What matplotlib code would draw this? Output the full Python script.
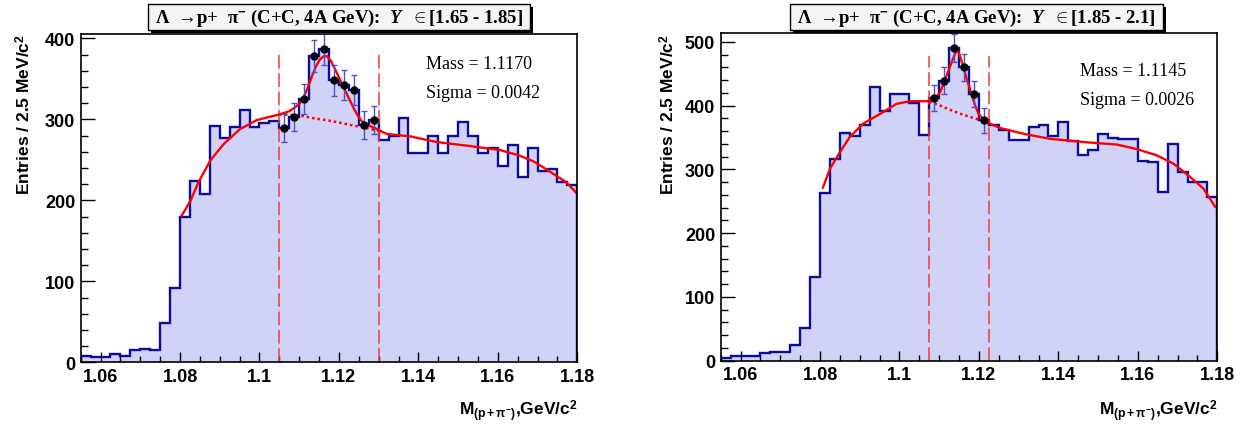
import numpy as np
import matplotlib
matplotlib.use('Agg')
import matplotlib.pyplot as plt
from matplotlib.patches import Rectangle
from matplotlib.ticker import FixedLocator, FixedFormatter, MultipleLocator

plt.rcParams['mathtext.fontset'] = 'custom'
plt.rcParams['mathtext.rm'] = 'Liberation Sans:bold'
plt.rcParams['mathtext.bf'] = 'Liberation Sans:bold'
plt.rcParams['mathtext.sf'] = 'Liberation Sans:bold'
plt.rcParams['mathtext.it'] = 'Liberation Serif:italic:bold'

# ---------------- data ----------------
mass_lo, mass_hi, bin_w = 1.055, 1.18, 0.0025

left_counts = [8, 7, 6, 10, 8, 15, 17, 15, 48, 92,
               179, 224, 208, 292, 277, 290, 312, 291, 296, 298,
               289, 303, 325, 378, 387, 348, 342, 336, 293, 299,
               275, 279, 302, 259, 259, 279, 259, 279, 297, 279,
               259, 264, 243, 268, 229, 265, 236, 239, 223, 219]

right_counts = [5, 8, 7, 8, 12, 13, 13, 24, 51, 131,
                263, 316, 357, 352, 369, 429, 391, 418, 418, 404,
                354, 412, 439, 490, 460, 419, 377, 370, 362, 346,
                346, 367, 369, 352, 375, 345, 323, 330, 355, 350,
                348, 348, 314, 312, 265, 340, 296, 281, 280, 257]

# signal windows (dashed lines)
left_window = [1.105, 1.13]
right_window = [1.1075, 1.1225]

# fit curves
left_fit_x = [1.0804, 1.0826, 1.0846, 1.0876, 1.0909, 1.0951, 1.0993, 1.1025, 1.1050,
              1.1075, 1.1090, 1.1102, 1.1112, 1.1122, 1.1132, 1.1142, 1.1152, 1.1162,
              1.1170, 1.1180, 1.1190, 1.1200, 1.1211, 1.1224, 1.1236, 1.1247, 1.1257,
              1.1272, 1.1287, 1.1320, 1.1379, 1.1446, 1.1530, 1.1606, 1.1656, 1.1690,
              1.1723, 1.1773, 1.1798]
left_fit_y = [181, 199, 222, 249, 269, 288, 299, 303, 306,
              310, 315, 320, 328, 340, 353, 365, 374, 378,
              378, 372, 362, 352, 340, 327, 315, 305, 298,
              293, 290, 282, 279, 272, 267, 262, 255, 248,
              238, 222, 209]
left_bg_x = [1.105, 1.108, 1.111, 1.114, 1.117, 1.120, 1.123, 1.126, 1.130]
left_bg_y = [306, 305.5, 304, 301, 299, 296, 293, 290, 286]

right_fit_x = [1.0807, 1.0825, 1.0850, 1.0875, 1.0909, 1.0951, 1.0993, 1.1027, 1.1050,
               1.1077, 1.1092, 1.1102, 1.1111, 1.1119, 1.1127, 1.1135, 1.1144, 1.1150,
               1.1157, 1.1163, 1.1169, 1.1176, 1.1182, 1.1190, 1.1199, 1.1210, 1.1220,
               1.1253, 1.1312, 1.1379, 1.1463, 1.1547, 1.1597, 1.1648, 1.1690, 1.1732,
               1.1765, 1.1795]
right_fit_y = [271, 301, 327, 351, 372, 387, 403, 407, 407,
               407, 413, 421, 434, 448, 461, 474, 488, 482,
               469, 456, 442, 429, 416, 401, 387, 379, 374,
               365, 356, 348, 343, 339, 332, 322, 309, 288,
               270, 241]
right_bg_x = [1.1075, 1.110, 1.1125, 1.115, 1.1175, 1.120, 1.1225]
right_bg_y = [406, 401, 394, 388, 383, 378, 373]

left_title = 'Λ  →p+  π$^{-}$ (C+C, 4A GeV):  $Y$  $\\in$[1.65 - 1.85]'
right_title = 'Λ  →p+  π$^{-}$ (C+C, 4A GeV):  $Y$  $\\in$[1.85 - 2.1]'
left_mass, left_sigma = 'Mass = 1.1170', 'Sigma = 0.0042'
right_mass, right_sigma = 'Mass = 1.1145', 'Sigma = 0.0026'

x_ticks = [1.06, 1.08, 1.10, 1.12, 1.14, 1.16, 1.18]
x_tick_labels = ['1.06', '1.08', '1.1', '1.12', '1.14', '1.16', '1.18']
left_yticks = [0, 100, 200, 300, 400]
right_yticks = [0, 100, 200, 300, 400, 500]

xlabel = 'M$_{\\mathrm{(p+\\pi^{-})}}$,GeV/c$^{2}$'
ylabel = 'Entries / 2.5 MeV/c$^{2}$'

# ---------------- style ----------------
W, H = 1254, 427
fill_col = '#d0d2f7'
line_col = '#0c0c9c'
err_col = '#5050c8'
fit_col = '#ff0000'
dash_col = '#f03c3c'

fig = plt.figure(figsize=(W / 100, H / 100), dpi=100)
fig.patch.set_facecolor('white')


def px_axes(x0, x1, ytop, ybot):
    return fig.add_axes([x0 / W, 1 - ybot / H, (x1 - x0) / W, (ybot - ytop) / H])


def title_box(x0, x1, y0, y1, text):
    sh = 3
    fig.add_artist(Rectangle(((x0 + sh) / W, 1 - (y1 + sh) / H), (x1 - x0) / W, (y1 - y0) / H,
                             transform=fig.transFigure, facecolor='black', edgecolor='black', lw=0))
    fig.add_artist(Rectangle((x0 / W, 1 - y1 / H), (x1 - x0) / W, (y1 - y0) / H,
                             transform=fig.transFigure, facecolor='#f4f4f4', edgecolor='black', lw=1))
    fig.text((x0 + x1) / 2 / W, 1 - (y0 + y1) / 2 / H, text, ha='center', va='center',
             fontsize=13.5, fontweight='bold', family=['Liberation Serif', 'DejaVu Serif'])


def draw_panel(ax, counts, window, fx, fy, bx, by, ymax, yticks, dash_top,
               mass_txt, sigma_txt, txt_x, mass_y, sigma_y, ylab_x, xlab_y):
    edges = mass_lo + bin_w * np.arange(len(counts) + 1)
    counts = np.asarray(counts, dtype=float)
    ax.stairs(counts, edges, fill=True, color=fill_col, lw=0, zorder=1)
    ax.stairs(counts, edges, color=line_col, lw=1.7, zorder=2)
    centers = edges[:-1] + bin_w / 2
    sel = (centers > window[0]) & (centers < window[1])
    ax.errorbar(centers[sel], counts[sel], yerr=np.sqrt(counts[sel]), fmt='o',
                color='black', ms=5, ecolor=err_col, elinewidth=1.0, capsize=2.2,
                capthick=1.0, zorder=5)
    ax.plot(fx, fy, color=fit_col, lw=1.7, zorder=4, solid_capstyle='round')
    ax.plot(bx, by, color=fit_col, lw=1.8, ls=(0, (1, 1.2)), zorder=4)
    for xv in window:
        ax.plot([xv, xv], [0, dash_top], color=dash_col, lw=1.1, ls=(0, (9, 3)), zorder=3)
    ax.set_xlim(mass_lo, mass_hi)
    ax.set_ylim(0, ymax)
    ax.xaxis.set_major_locator(FixedLocator(x_ticks))
    ax.xaxis.set_major_formatter(FixedFormatter(x_tick_labels))
    ax.xaxis.set_minor_locator(MultipleLocator(0.005))
    ax.yaxis.set_major_locator(FixedLocator(yticks))
    ax.yaxis.set_major_formatter(FixedFormatter([str(v) for v in yticks]))
    ax.yaxis.set_minor_locator(MultipleLocator(20))
    ax.tick_params(axis='both', which='both', direction='in', top=False, right=False,
                   width=1.0, colors='black')
    ax.tick_params(axis='y', which='major', length=10, pad=4)
    ax.tick_params(axis='y', which='minor', length=5)
    ax.tick_params(axis='x', which='major', length=7, pad=4)
    ax.tick_params(axis='x', which='minor', length=4)
    for lab in ax.get_xticklabels() + ax.get_yticklabels():
        lab.set_fontfamily('Liberation Sans')
        lab.set_fontweight('bold')
        lab.set_fontsize(13)
    for sp in ax.spines.values():
        sp.set_linewidth(1.2)
        sp.set_color('black')
        sp.set_zorder(6)
    ax.text(txt_x, mass_y, mass_txt, transform=ax.transAxes, ha='left', va='center',
            fontsize=13, family='Liberation Serif')
    ax.text(txt_x, sigma_y, sigma_txt, transform=ax.transAxes, ha='left', va='center',
            fontsize=13, family='Liberation Serif')
    ax.set_xlabel(xlabel, fontsize=12.5, fontweight='bold', family='Liberation Sans', ha='right')
    ax.xaxis.label.set_va('center')
    ax.xaxis.set_label_coords(1.0, xlab_y)
    ax.set_ylabel(ylabel, fontsize=12.5, fontweight='bold', family='Liberation Sans', loc='top')
    ax.yaxis.set_label_coords(ylab_x, 1.0)


axL = px_axes(80.7, 577.3, 34.5, 363.3)
axR = px_axes(720.7, 1217.3, 34.0, 361.7)

draw_panel(axL, left_counts, left_window, left_fit_x, left_fit_y, left_bg_x, left_bg_y,
           406, left_yticks, 384, left_mass, left_sigma, 0.695, 0.909, 0.822, -0.096, -0.145)
draw_panel(axR, right_counts, right_window, right_fit_x, right_fit_y, right_bg_x, right_bg_y,
           514, right_yticks, 478, right_mass, right_sigma, 0.7235, 0.887, 0.798, -0.088, -0.150)

title_box(148, 530, 5, 31, left_title)
title_box(790, 1163, 5, 31, right_title)

fig.savefig('out.png', dpi=100)
